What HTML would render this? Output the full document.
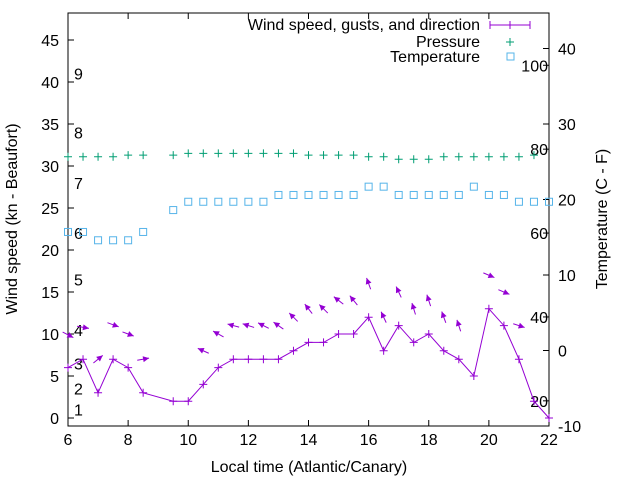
<!DOCTYPE html>
<html><head><meta charset="utf-8"><style>
body{margin:0;background:#fff}
svg text{font-family:"Liberation Sans",sans-serif;font-size:16px;fill:#000}
</style></head><body>
<svg id="c" width="640" height="480" xmlns="http://www.w3.org/2000/svg">
<rect x="0" y="0" width="640" height="480" fill="#fff"/>
<g id="axes"></g><g id="marks"></g>
<text x="17" y="219" text-anchor="middle" transform="rotate(-90 17 219)">Wind speed (kn - Beaufort)</text>
<text x="607" y="219" text-anchor="middle" transform="rotate(-90 607 219)">Temperature (C - F)</text>
<text x="309" y="472" text-anchor="middle">Local time (Atlantic/Canary)</text>
<g>
<text x="480" y="30" text-anchor="end">Wind speed, gusts, and direction</text>
<line x1="490" y1="25" x2="530" y2="25" stroke="#9400d3"/><line x1="490" y1="21" x2="490" y2="29" stroke="#9400d3"/><line x1="530" y1="21" x2="530" y2="29" stroke="#9400d3"/><line x1="506" y1="25" x2="514" y2="25" stroke="#9400d3"/><line x1="510" y1="21" x2="510" y2="29" stroke="#9400d3"/>
<text x="480" y="47" text-anchor="end">Pressure</text>
<line x1="506" y1="42" x2="514" y2="42" stroke="#009e73"/><line x1="510" y1="38" x2="510" y2="46" stroke="#009e73"/>
<text x="480" y="62" text-anchor="end">Temperature</text>
<rect x="507" y="53" width="7" height="7" fill="none" stroke="#56b4e9"/>
</g>
</svg>
<script>
const times=[6,6.5,7,7.5,8,8.5,9.5,10,10.5,11,11.5,12,12.5,13,13.5,14,14.5,15,15.5,16,16.5,17,17.5,18,18.5,19,19.5,20,20.5,21,21.5,22];
const windSpeed=[6,7,3,7,6,3,2,2,4,6,7,7,7,7,8,9,9,10,10,12,8,11,9,10,8,7,5,13,11,7,2,0];
const gustTimes=[6,6.5,7,7.5,8,8.5,10.5,11,11.5,12,12.5,13,13.5,14,14.5,15,15.5,16,16.5,17,17.5,18,18.5,19,20,20.5,21];
const gusts=[9.9,10.8,7,11.1,10,7,8,10,11,11,11,11,12,13,13,14,14,16,12,15,13,14,12,11,17,15,11];
const gustDir=[27,10,-39,20,20,-10,204,209,195,198,207,215,225,232,225,218,231,250,245,245,253,252,250,252,23,23,18];
const presTimes=[6,6.5,7,7.5,8,8.5,9.5,10,10.5,11,11.5,12,12.5,13,13.5,14,14.5,15,15.5,16,16.5,17,17.5,18,18.5,19,19.5,20,20.5,21,21.5];
const pressure=[31.1,31.1,31.1,31.1,31.3,31.3,31.3,31.5,31.5,31.5,31.5,31.5,31.5,31.5,31.5,31.3,31.3,31.3,31.3,31.1,31.1,30.8,30.8,30.8,31.1,31.1,31.1,31.1,31.1,31.1,31.3];
const temperature=[15.7,15.7,14.6,14.6,14.6,15.7,18.6,19.7,19.7,19.7,19.7,19.7,19.7,20.6,20.6,20.6,20.6,20.6,20.6,21.7,21.7,20.6,20.6,20.6,20.6,20.6,21.7,20.6,20.6,19.7,19.7,19.7];
const xTicks=[6,8,10,12,14,16,18,20,22];
const yTicks=[0,5,10,15,20,25,30,35,40,45];
const y2Ticks=[-10,0,10,20,30,40];
const beaufort=[1,2,3,4,5,6,7,8,9];
const beaufortKn=[1,3.5,6.5,10.5,16.5,22,28,34,41];
const fahr=[20,40,60,80,100];
const L=68,R=549,T=13,B=426;
const X=t=>L+(t-6)*(R-L)/16;
const Y=v=>418-v*8.4;
const Y2=c=>426-(c+10)*7.55;
const NS="http://www.w3.org/2000/svg";
function mk(tag,attrs,parent){const e=document.createElementNS(NS,tag);for(const k in attrs)e.setAttribute(k,attrs[k]);parent.appendChild(e);return e;}
const ax=document.getElementById('axes'),mg=document.getElementById('marks');
const frame=mk('rect',{x:L,y:T,width:R-L,height:B-T,fill:'none',stroke:'#000'},ax);


xTicks.forEach(t=>{const x=X(t);mk('line',{x1:x,y1:B,x2:x,y2:B-6,stroke:'#000'},ax);mk('line',{x1:x,y1:T,x2:x,y2:T+6,stroke:'#000'},ax);
const tx=mk('text',{x:x,y:B+19,'text-anchor':'middle'},ax);tx.textContent=t;

});
yTicks.forEach(v=>{const y=Y(v);mk('line',{x1:L,y1:y,x2:L+6,y2:y,stroke:'#000'},ax);
const tx=mk('text',{x:L-9,y:y+6,'text-anchor':'end'},ax);tx.textContent=v;

});
y2Ticks.forEach(c=>{const y=Y2(c);mk('line',{x1:R,y1:y,x2:R-6,y2:y,stroke:'#000'},ax);
const tx=mk('text',{x:R+9,y:y+6},ax);tx.textContent=c;

});
beaufort.forEach((b,i)=>{const tx=mk('text',{x:74,y:Y(beaufortKn[i])+6},ax);tx.textContent=b;

});
fahr.forEach(f=>{const y=Y2((f-32)*5/9);mk('line',{x1:R,y1:y,x2:R-6,y2:y,stroke:'#000'},ax);
const tx=mk('text',{x:R-1,y:y+6,'text-anchor':'end'},ax);tx.textContent=f;

});
const pl=mk('polyline',{points:times.map((t,i)=>X(t)+','+Y(windSpeed[i])).join(' '),fill:'none',stroke:'#9400d3','stroke-width':1},mg);


times.forEach((t,i)=>{const x=X(t),y=Y(windSpeed[i]);const g=mk('path',{d:`M${x-4},${y}H${x+4}M${x},${y-4}V${y+4}`,stroke:'#9400d3'},mg);

});
gustTimes.forEach((t,i)=>{const cx=X(t),cy=Y(gusts[i]),a=gustDir[i]*Math.PI/180,len=12;
const dx=Math.cos(a),dy=Math.sin(a);const x1=cx-dx*len/2,y1=cy-dy*len/2,x2=cx+dx*len/2,y2=cy+dy*len/2;
const g=mk('g',{},mg);


mk('line',{x1:x1,y1:y1,x2:x2,y2:y2,stroke:'#9400d3'},g);
const hx=x2-dx*6,hy=y2-dy*6,px=-dy*3,py=dx*3;
mk('polygon',{points:`${x2},${y2} ${hx+px},${hy+py} ${hx-px},${hy-py}`,fill:'#9400d3'},g);});
presTimes.forEach((t,i)=>{const x=X(t),y=Y(pressure[i]);const g=mk('path',{d:`M${x-4},${y}H${x+4}M${x},${y-4}V${y+4}`,stroke:'#009e73'},mg);

});
times.forEach((t,i)=>{const x=X(t),y=Y2(temperature[i]);const r=mk('rect',{x:x-3.5,y:y-3.5,width:7,height:7,fill:'none',stroke:'#56b4e9'},mg);

});
</script>
</body></html>
